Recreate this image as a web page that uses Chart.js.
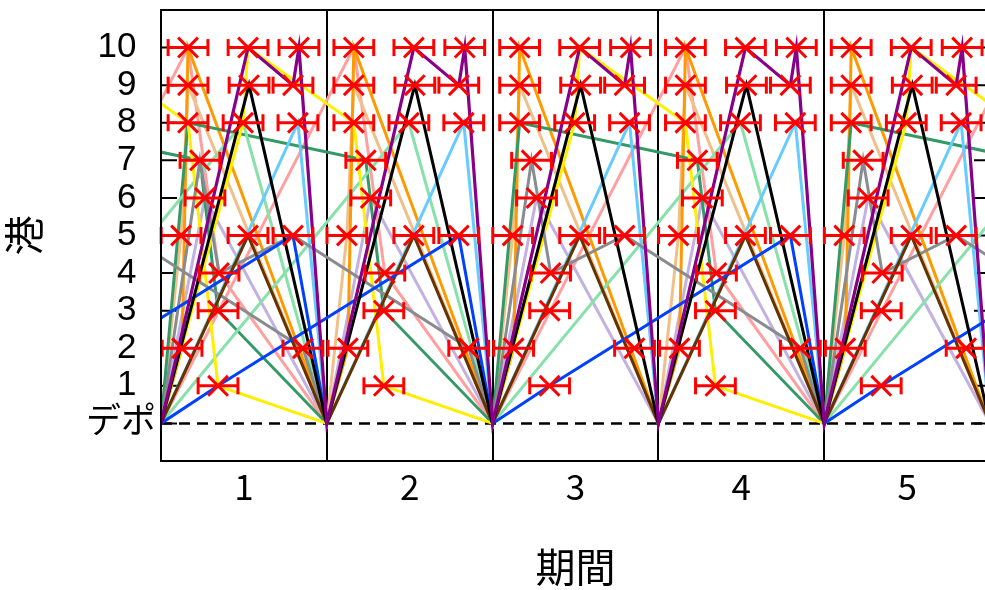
<!DOCTYPE html>
<html>
<head>
<meta charset="utf-8">
<style>
html,body{margin:0;padding:0;overflow:hidden;background:#fff;}
canvas{display:block;}
</style>
<script src="https://cdn.jsdelivr.net/npm/chart.js@4.4.1/dist/chart.umd.min.js"></script>
</head>
<body>
<canvas id="c" width="1000" height="590"></canvas>
<script>
// ---------------- data ----------------
const periodLabels = ['1', '2', '3', '4', '5'];
const portLabels = ['デポ', '1', '2', '3', '4', '5', '6', '7', '8', '9', '10'];
const xAxisTitle = '期間';
const yAxisTitle = '港';

// time windows (same in every period): port and centre time inside the period
const windowPorts   = [10, 10, 10, 9, 9, 9, 8, 8, 8, 7, 6, 5, 5, 5, 4, 3, 2, 2, 1];
const windowCenters = [0.163, 0.525, 0.832, 0.163, 0.531, 0.796, 0.163, 0.495, 0.826,
                       0.235, 0.265, 0.121, 0.525, 0.796, 0.350, 0.344, 0.127, 0.856, 0.344];
const windowHalfWidth = 0.12;
const windowPeriods = [0, 1, 2, 3, 4];

// vessel routes: [time from route start (periods), port]  (port 0 = depot)
const purpleStops    = [[0, 0], [0.525, 10], [0.796, 9], [0.832, 10], [1, 0]];
const blackStops     = [[0, 0], [0.531, 9], [1, 0]];
const orangeStops    = [[0, 0], [0.127, 2], [0.163, 10], [1, 0]];
const tanStops       = [[0, 0], [0.121, 5], [0.163, 9], [1, 0]];
const lightBlueStops = [[0, 0], [0.826, 8], [1, 0]];
const lavenderStops  = [[0, 0], [0.265, 6], [1, 0]];
const brownStops     = [[0, 0], [0.525, 5], [1, 0]];
const pinkStops      = [[0, 0], [1.163, 10], [1.350, 4], [2, 0]];
const yellowStops    = [[0, 0], [0.495, 8], [0.525, 10], [1.163, 8], [1.344, 1], [2, 0]];
const seaGreenStops  = [[0, 0], [0.163, 8], [1.235, 7], [1.344, 3], [2, 0]];
const mintStops      = [[0, 0], [1.495, 8], [2, 0]];
const grayStops      = [[0, 0], [0.235, 7], [0.350, 4], [0.796, 5], [1.856, 2], [2, 0]];
const blueStops      = [[0, 0], [0.344, 1], [1.796, 5], [2, 0]];

// departure periods of each route
const everyPeriodStarts = [0, 1, 2, 3, 4];
const twoPeriodStarts   = [-1, 0, 2, 4];

// ---------------- styles ----------------
const routeTable = [
  { stops: purpleStops,    starts: everyPeriodStarts, color: '#880088', width: 3.2 },
  { stops: blackStops,     starts: everyPeriodStarts, color: '#000000', width: 3 },
  { stops: blueStops,      starts: twoPeriodStarts,   color: '#0040ff', width: 3 },
  { stops: brownStops,     starts: everyPeriodStarts, color: '#663300', width: 3 },
  { stops: grayStops,      starts: twoPeriodStarts,   color: '#888c90', width: 3 },
  { stops: yellowStops,    starts: twoPeriodStarts,   color: '#ffee00', width: 3 },
  { stops: lightBlueStops, starts: everyPeriodStarts, color: '#66ccff', width: 3 },
  { stops: mintStops,      starts: twoPeriodStarts,   color: '#88e0aa', width: 3 },
  { stops: seaGreenStops,  starts: twoPeriodStarts,   color: '#339966', width: 3 },
  { stops: orangeStops,    starts: everyPeriodStarts, color: '#ff9900', width: 3 },
  { stops: tanStops,       starts: everyPeriodStarts, color: '#f0c08a', width: 3 },
  { stops: pinkStops,      starts: twoPeriodStarts,   color: '#ff9f9f', width: 3 },
  { stops: lavenderStops,  starts: everyPeriodStarts, color: '#c3b1e1', width: 3 }
];

function buildChains(stops, starts) {
  const chains = [];
  let cur = null, lastEnd = null;
  starts.forEach(s => {
    const pts = stops.map(([dt, p]) => ({ x: s + dt, y: p }));
    if (cur && lastEnd === s) { cur.push(...pts.slice(1)); }
    else { cur = pts; chains.push(cur); }
    lastEnd = s + stops[stops.length - 1][0];
  });
  return chains;
}

const markerPoints = [];
const barPoints = [];
windowPeriods.forEach(k => {
  windowPorts.forEach((p, i) => {
    const c = k + windowCenters[i];
    markerPoints.push({ x: c, y: p });
    barPoints.push({ x: c - windowHalfWidth, y: p }, { x: c + windowHalfWidth, y: p }, { x: c, y: null });
  });
});

const datasets = [];
datasets.push({
  data: markerPoints, showLine: false, pointStyle: 'crossRot', pointRadius: 14,
  pointBorderWidth: 3, pointBorderColor: '#ff0000', pointBackgroundColor: '#ff0000', clip: false
});
datasets.push({
  data: barPoints, showLine: true, spanGaps: false, borderColor: '#ff0000', borderWidth: 3,
  pointStyle: 'line', pointRotation: 90, pointRadius: 8.5, pointBorderWidth: 3,
  pointBorderColor: '#ff0000', pointBackgroundColor: '#ff0000', clip: false
});
routeTable.forEach(r => {
  buildChains(r.stops, r.starts).forEach(chain => {
    datasets.push({
      data: chain, showLine: true, borderColor: r.color, borderWidth: r.width,
      pointRadius: 0, borderJoinStyle: 'miter', clip: 0
    });
  });
});
// depot reference line
datasets.push({
  data: [{ x: 0, y: 0 }, { x: 5, y: 0 }], showLine: true, borderColor: '#000', borderWidth: 2.5,
  borderDash: [11, 7], pointRadius: 0, clip: 0
});

const framePlugin = {
  id: 'frame',
  beforeDatasetsDraw(chart) {
    const { ctx, chartArea: a, scales: { y } } = chart;
    ctx.save();
    ctx.strokeStyle = '#000';
    ctx.lineWidth = 2;
    ctx.beginPath();
    portLabels.forEach((_, v) => {
      const py = y.getPixelForValue(v);
      ctx.moveTo(a.left, py); ctx.lineTo(a.left + 16, py);
      ctx.moveTo(a.right - 16, py); ctx.lineTo(a.right, py);
    });
    ctx.stroke();
    ctx.restore();
  },
  afterDatasetsDraw(chart) {
    const { ctx, chartArea: a } = chart;
    ctx.save();
    ctx.strokeStyle = '#000';
    ctx.lineWidth = 2;
    ctx.strokeRect(a.left, a.top, a.right - a.left, a.bottom - a.top);
    ctx.restore();
  }
};

new Chart(document.getElementById('c'), {
  type: 'scatter',
  data: { datasets },
  options: {
    responsive: false,
    animation: false,
    devicePixelRatio: 1,
    events: [],
    layout: { autoPadding: false, padding: { top: 10, right: 10, left: 0, bottom: 0 } },
    plugins: { legend: { display: false }, tooltip: { enabled: false } },
    scales: {
      x: {
        type: 'linear', min: 0, max: 5,
        afterFit: s => { s.height = 129; s.paddingLeft = 0; s.paddingRight = 0; },
        ticks: {
          stepSize: 0.5, autoSkip: false, maxRotation: 0, minRotation: 0, padding: 5, color: '#000',
          font: { family: "'Noto Sans CJK JP', sans-serif", size: 35 },
          callback: v => {
            const i = v - 0.5;
            return (Number.isInteger(i) && i >= 0 && i < periodLabels.length) ? periodLabels[i] : '';
          }
        },
        grid: {
          drawTicks: false, lineWidth: 2,
          color: c => (c.tick && Number.isInteger(c.tick.value) && c.tick.value > 0 && c.tick.value < 5) ? '#000' : 'rgba(0,0,0,0)'
        },
        border: { display: false },
        title: {
          display: true, text: xAxisTitle, color: '#000', padding: { top: 0, bottom: 3 },
          font: { family: "'Noto Sans CJK JP', sans-serif", size: 40, lineHeight: 1 }
        }
      },
      y: {
        type: 'linear', min: -1, max: 11,
        afterFit: s => { s.width = 161; s.paddingTop = 0; s.paddingBottom = 0; },
        ticks: {
          stepSize: 1, autoSkip: false, padding: 5, color: '#000',
          font: { family: "'Liberation Sans', 'Noto Sans CJK JP', sans-serif", size: 35 },
          callback: v => {
            if (!Number.isInteger(v) || v < 0 || v >= portLabels.length) return '';
            return v === 0 ? portLabels[0] : portLabels[v] + '  ';
          }
        },
        grid: { display: false, drawTicks: false },
        border: { display: false },
        title: {
          display: true, text: yAxisTitle, color: '#000', padding: { top: 4, bottom: 0 },
          font: { family: "'Noto Sans CJK JP', sans-serif", size: 40, lineHeight: 1 }
        }
      }
    }
  },
  plugins: [framePlugin]
});
</script>
</body>
</html>
